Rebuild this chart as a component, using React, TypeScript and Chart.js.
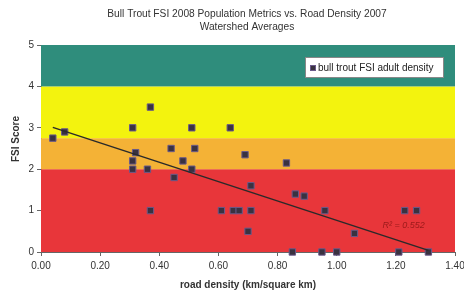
import React, { useEffect, useRef } from "react";
import { Chart, registerables } from "chart.js";

Chart.register(...registerables);

const titleLines = ["Bull Trout FSI 2008 Population Metrics vs. Road Density 2007", "Watershed Averages"];
const seriesName = "bull trout FSI adult density";
const xTitle = "road density (km/square km)";
const yTitle = "FSI Score";

const roadDensity = [0.04, 0.08, 0.31, 0.37, 0.32, 0.31, 0.31, 0.36, 0.37, 0.44, 0.51, 0.52, 0.48, 0.51, 0.45, 0.64, 0.61, 0.65, 0.67, 0.69, 0.83, 0.71, 0.71, 0.70, 0.86, 0.89, 0.96, 1.06, 1.23, 1.27, 0.85, 0.95, 1.00, 1.21, 1.31];
const fsiScore = [2.75, 2.9, 3.0, 3.5, 2.4, 2.2, 2.0, 2.0, 1.0, 2.5, 3.0, 2.5, 2.2, 2.0, 1.8, 3.0, 1.0, 1.0, 1.0, 2.35, 2.15, 1.6, 1.0, 0.5, 1.4, 1.35, 1.0, 0.45, 1.0, 1.0, 0, 0, 0, 0, 0];

const trendX = [0.04, 1.31];
const trendY = [3.01, 0.04];
const r2Label = "R² = 0.552";
const r2Pos = [1.155, 0.65];

const bandFrom = [0, 2, 2.75, 4];
const bandTo = [2, 2.75, 4, 5];
const bandColors = ["#e8363a", "#f4b236", "#f3f30e", "#2f8d7c"];

const FONT = "'Liberation Sans', Arial, sans-serif";

export default function App() {
  const ref = useRef<HTMLCanvasElement>(null);
  useEffect(() => {
    document.body.style.margin = "0";
    const bandsPlugin = {
      id: "bands",
      beforeDatasetsDraw(chart: any) {
        const { ctx, chartArea, scales } = chart;
        ctx.save();
        for (let i = 0; i < bandFrom.length; i++) {
          const y1 = scales.y.getPixelForValue(bandTo[i]);
          const y2 = scales.y.getPixelForValue(bandFrom[i]);
          ctx.fillStyle = bandColors[i];
          ctx.fillRect(chartArea.left, y1, chartArea.right - chartArea.left, y2 - y1);
        }
        ctx.restore();
      },
      afterDraw(chart: any) {
        const { ctx, scales } = chart;
        ctx.save();
        // titles
        ctx.fillStyle = "#333333";
        ctx.font = `10.2px ${FONT}`;
        ctx.textAlign = "center";
        ctx.textBaseline = "middle";
        ctx.fillText(titleLines[0], 247, 14);
        ctx.fillText(titleLines[1], 247, 27);
        ctx.save();
        ctx.translate(16, 139);
        ctx.rotate(-Math.PI / 2);
        ctx.font = `bold 10px ${FONT}`;
        ctx.fillText(yTitle, 0, 0);
        ctx.restore();
        // R² label
        ctx.font = `italic 9px ${FONT}`;
        ctx.fillStyle = "#9a1a1a";
        ctx.textAlign = "left";
        ctx.textBaseline = "middle";
        ctx.fillText(r2Label, scales.x.getPixelForValue(r2Pos[0]), scales.y.getPixelForValue(r2Pos[1]));
        // legend
        const lx = 305, ly = 57, lw = 139, lh = 21;
        ctx.fillStyle = "#ffffff";
        ctx.fillRect(lx, ly, lw, lh);
        ctx.strokeStyle = "#888888";
        ctx.lineWidth = 1;
        ctx.strokeRect(lx + 0.5, ly + 0.5, lw - 1, lh - 1);
        ctx.fillStyle = "#3a3240";
        ctx.fillRect(lx + 5, ly + 8, 6, 6);
        ctx.strokeStyle = "#6a5a8a";
        ctx.strokeRect(lx + 5.5, ly + 8.5, 5, 5);
        ctx.font = `10px ${FONT}`;
        ctx.fillStyle = "#222222";
        ctx.textBaseline = "middle";
        ctx.fillText(seriesName, lx + 13, ly + lh / 2 + 0.5);
        ctx.restore();
      },
    };

    const chart = new Chart(ref.current as HTMLCanvasElement, {
      type: "scatter",
      data: {
        datasets: [
          {
            type: "line",
            label: "trend",
            data: trendX.map((x, i) => ({ x, y: trendY[i] })),
            borderColor: "#2a2a2a",
            borderWidth: 1.5,
            pointRadius: 0,
            fill: false,
          },
          {
            label: seriesName,
            data: roadDensity.map((x, i) => ({ x, y: fsiScore[i] })),
            pointStyle: "rect",
            pointRadius: 4.5,
            backgroundColor: "#3a3240",
            borderColor: "#6a5a8a",
            borderWidth: 1,
            clip: false,
          } as any,
        ],
      },
      plugins: [bandsPlugin],
      options: {
        animation: false,
        responsive: false,
        layout: { padding: { left: 0, right: 9, top: 45, bottom: 0 } },
        plugins: {
          legend: { display: false },
          tooltip: { enabled: false },
          title: { display: false },
        },
        scales: {
          x: {
            type: "linear",
            min: 0,
            max: 1.4,
            ticks: {
              stepSize: 0.2,
              color: "#333333",
              font: { family: FONT, size: 10 },
              callback: (v: any) => Number(v).toFixed(2),
              maxRotation: 0,
              padding: 4,
            },
            grid: { display: true, drawOnChartArea: false, tickLength: 4, color: "#666666" },
            border: { color: "#666666" },
            title: { display: true, text: xTitle, color: "#333333", font: { family: FONT, size: 10, weight: "bold" }, padding: { top: 4 } },
            afterFit(scale: any) {
              scale.height = 43;
              scale.paddingLeft = 0;
              scale.paddingRight = 0;
            },
          },
          y: {
            type: "linear",
            min: 0,
            max: 5,
            ticks: { stepSize: 1, color: "#333333", font: { family: FONT, size: 10 }, padding: 3 },
            grid: { display: true, drawOnChartArea: false, tickLength: 4, color: "#666666" },
            border: { color: "#666666" },
            title: { display: false },
            afterFit(scale: any) {
              scale.width = 41;
              scale.paddingTop = 0;
              scale.paddingBottom = 0;
            },
          },
        },
      } as any,
    });
    return () => chart.destroy();
  }, []);
  return <canvas ref={ref} width={464} height={295} style={{ display: "block" }} />;
}
